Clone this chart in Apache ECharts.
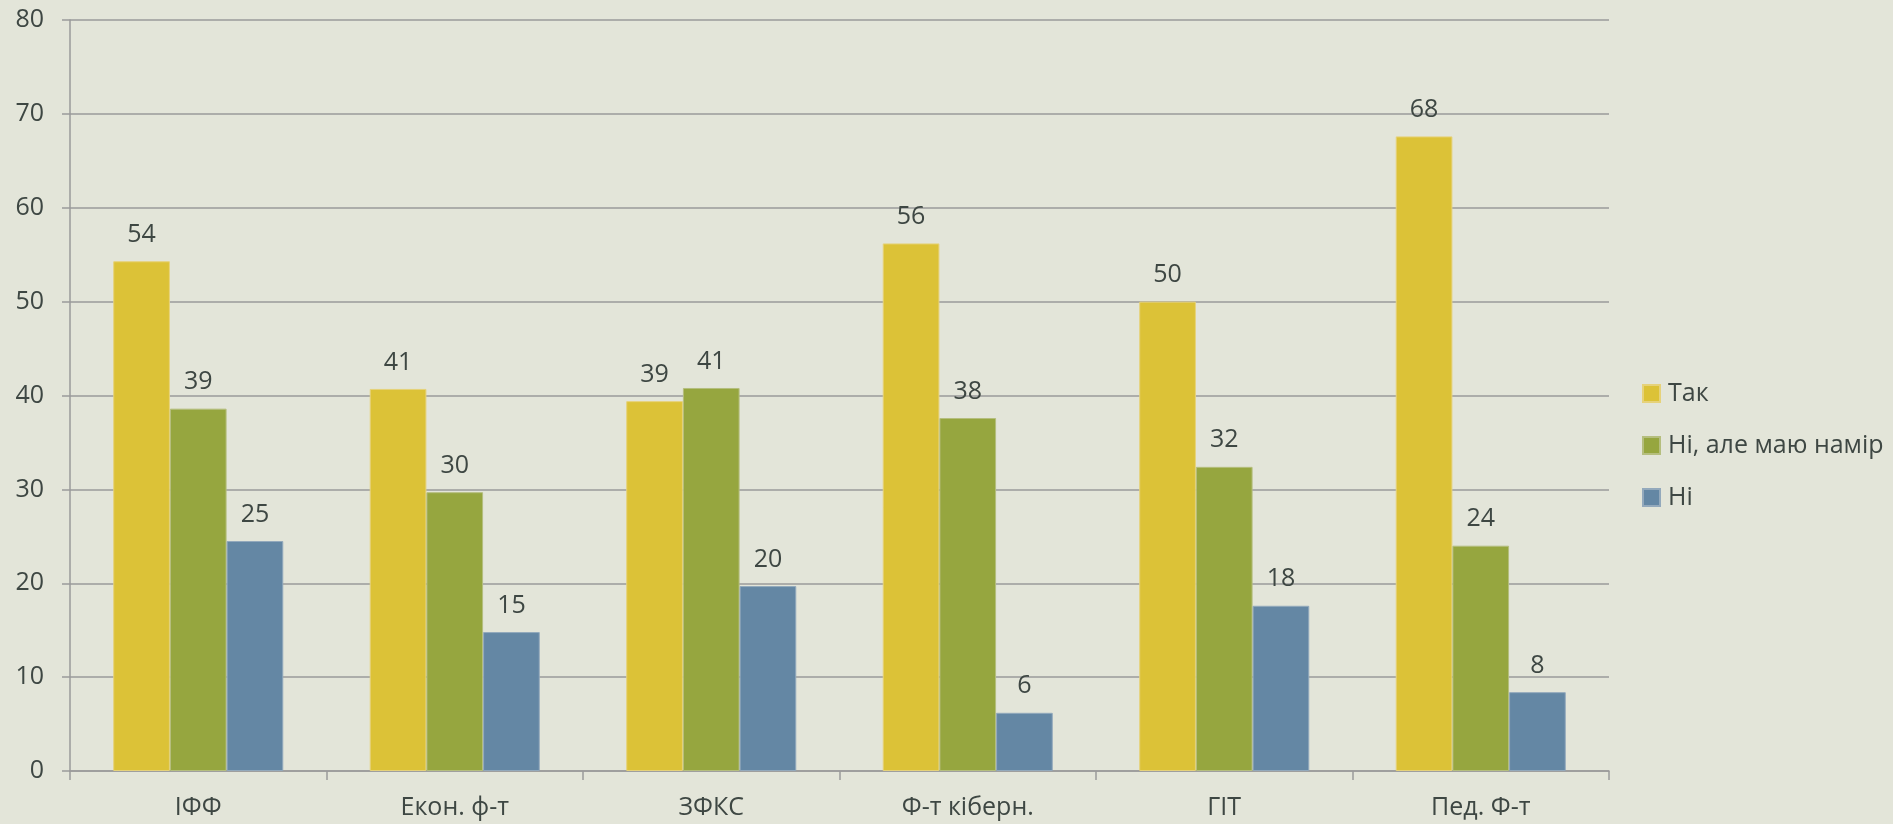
<!DOCTYPE html>
<html><head><meta charset="utf-8">
<script src="https://cdn.jsdelivr.net/npm/echarts@6/dist/echarts.min.js"></script>
<style>html,body{margin:0;padding:0;background:#E3E5D9;}#c{width:1893px;height:824px;}</style>
</head><body><div id="c"></div>
<script>
const categories = ['ІФФ', 'Екон. ф-т', 'ЗФКС', 'Ф-т кіберн.', 'ГІТ', 'Пед. Ф-т'];
const seriesNames = ['Так', 'Ні, але маю намір', 'Ні'];
const yesValues = [54.3, 40.7, 39.4, 56.2, 50.0, 67.6];
const intendValues = [38.6, 29.7, 40.8, 37.6, 32.4, 24.0];
const noValues = [24.5, 14.8, 19.7, 6.2, 17.6, 8.4];
const yTicks = [0, 10, 20, 30, 40, 50, 60, 70, 80];
const colors = ['#DCC237', '#96A63F', '#6487A4'];
const borders = ['#E6D27A', '#B5BE7E', '#93A9BC'];
const textColor = '#3e4743';
const fontFamily = '"Open Sans", "Noto Sans", sans-serif';
const fs = 25;

const chart = echarts.init(document.getElementById('c'));
const mk = (name, data, i) => ({
  name, type: 'bar', data,
  barGap: '0%', barCategoryGap: '33.7%',
  itemStyle: { color: colors[i], borderColor: borders[i], borderWidth: 1 },
  label: { show: true, position: 'top', distance: 14, color: textColor, fontSize: fs, fontFamily,
    formatter: p => Math.round(p.value) },
  emphasis: { disabled: true }
});
chart.setOption({
  backgroundColor: '#E3E5D9',
  animation: false,
  textStyle: { fontFamily },
  grid: { left: 70, right: 284, top: 20, bottom: 53, containLabel: false },
  legend: {
    orient: 'vertical', left: 1637, top: 376, icon: 'rect',
    itemWidth: 17, itemHeight: 17, itemGap: 27,
    textStyle: { color: textColor, fontSize: fs, fontFamily, lineHeight: 25, padding: [0, 0, 0, 3] },
    data: seriesNames
  },
  xAxis: {
    type: 'category', data: categories,
    axisLine: { lineStyle: { color: '#9a9a9a', width: 1.5 } },
    axisTick: { show: true, length: 9, alignWithLabel: false, lineStyle: { color: '#9a9a9a', width: 1.5 } },
    axisLabel: { color: textColor, fontSize: fs, fontFamily, margin: 24 }
  },
  yAxis: {
    type: 'value', min: yTicks[0], max: yTicks[yTicks.length - 1], interval: 10,
    axisLine: { show: true, lineStyle: { color: '#9a9a9a', width: 1.5 } },
    axisTick: { show: true, length: 8, lineStyle: { color: '#9a9a9a', width: 1.5 } },
    splitLine: { show: true, lineStyle: { color: '#9a9a9a', width: 1.5 } },
    axisLabel: { color: textColor, fontSize: fs, fontFamily, margin: 26 }
  },
  series: [mk(seriesNames[0], yesValues, 0), mk(seriesNames[1], intendValues, 1), mk(seriesNames[2], noValues, 2)]
});
</script></body></html>
